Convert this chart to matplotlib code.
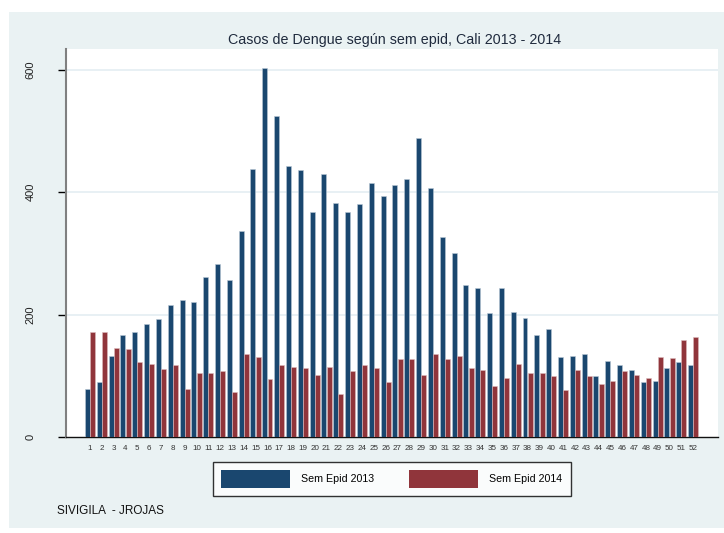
import matplotlib
matplotlib.use("Agg")
import matplotlib.pyplot as plt
import numpy as np
from matplotlib.patches import Rectangle

plt.rcParams['font.family'] = ['Liberation Sans', 'DejaVu Sans']

weeks = list(range(1, 53))
casos_2013 = [78, 89, 133, 167, 171, 185, 192, 216, 223, 220,
              261, 282, 257, 336, 438, 603, 524, 442, 436, 367,
              430, 382, 367, 381, 414, 394, 411, 421, 488, 406,
              326, 300, 248, 244, 202, 243, 204, 195, 166, 176,
              130, 133, 135, 99, 124, 117, 109, 89, 91, 112,
              122, 118]
casos_2014 = [172, 172, 145, 143, 123, 120, 111, 117, 78, 104,
              104, 107, 73, 136, 131, 94, 117, 115, 112, 101,
              114, 71, 107, 117, 112, 89, 128, 127, 101, 135,
              127, 132, 113, 109, 83, 97, 120, 104, 104, 100,
              76, 109, 100, 86, 91, 107, 101, 96, 130, 129,
              158, 163]
yticks = [0, 200, 400, 600]
title = "Casos de Dengue según sem epid, Cali 2013 - 2014"
labels = ["Sem Epid 2013", "Sem Epid 2014"]
note = "SIVIGILA  - JROJAS"

c_blue = "#1a476f"
c_red = "#90353b"
bg = "#eaf2f3"

fig = plt.figure(figsize=(7.24, 5.33), dpi=100)
fig.patch.set_facecolor("white")
# outer light background
fig.patches.append(Rectangle((9/724, 1-528/533), (724-9)/724, (528-12)/533,
                             transform=fig.transFigure, facecolor=bg,
                             edgecolor="none", zorder=-10))

ax = fig.add_axes([66/724, 1-437/533, 652/724, (437-49.3)/533])
ax.set_zorder(2)
ax.set_facecolor("white")

x = np.array(weeks)
w = 0.42
b1 = ax.bar(x - w/2 - 0.01, casos_2013, width=w, color=c_blue,
            edgecolor="#b9c8d6", linewidth=0.4, zorder=3, label=labels[0])
b2 = ax.bar(x + w/2 + 0.01, casos_2014, width=w, color=c_red,
            edgecolor="#dcbcbe", linewidth=0.4, zorder=3, label=labels[1])

ax.set_xlim(-1.03, 54.1)
ax.set_ylim(0, 633)
ax.set_yticks(yticks)
ax.set_yticklabels([str(v) for v in yticks], rotation=90, va="center",
                   fontsize=8, color="#222222")
ax.tick_params(axis="y", length=6, width=1, pad=16, color="black")
ax.set_xticks(weeks)
ax.set_xticklabels([str(v) for v in weeks], fontsize=5.8, color="#333333")
ax.tick_params(axis="x", length=0, pad=6)

for v in yticks[1:]:
    ax.axhline(v, color="#e4eef2", linewidth=1.2, zorder=1)

for s in ["top", "right"]:
    ax.spines[s].set_visible(False)
ax.spines["left"].set_color("#808080")
ax.spines["left"].set_linewidth(1.5)
ax.spines["bottom"].set_color("#111111")
ax.spines["bottom"].set_linewidth(1.0)

fig.text(395/724, 1-40/533, title, ha="center", va="center",
         fontsize=10.3, color="#1f2a3d")

# legend
leg = fig.legend(handles=[b1, b2], labels=labels, loc="center",
                 bbox_to_anchor=(391.5/724, 1-479/533), ncol=2,
                 frameon=True, fontsize=7.7, handlelength=6.45, handleheight=2.1,
                 columnspacing=3.3, handletextpad=1.0, borderpad=0.8,
                 borderaxespad=0, fancybox=False, edgecolor="black")
leg.get_frame().set_linewidth(1.0)
leg.get_frame().set_facecolor("white")
for h in leg.legend_handles:
    h.set_linewidth(0)

fig.text(57/724, 1-511/533, note, ha="left", va="center",
         fontsize=8.5, color="#111111")

fig.savefig("out.png", dpi=100, facecolor=fig.get_facecolor())
